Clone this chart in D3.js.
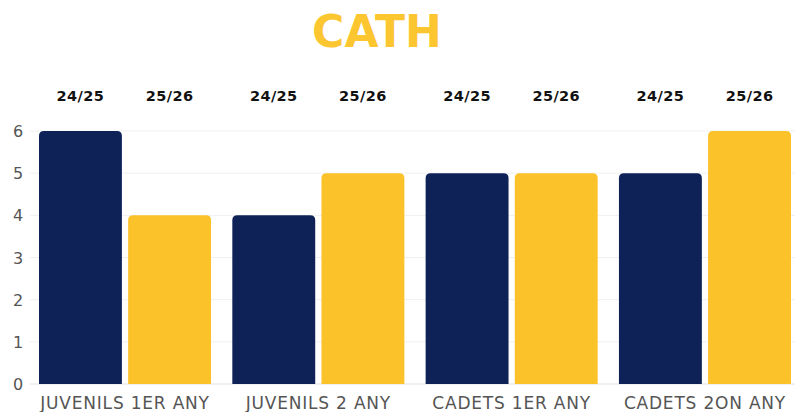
<!DOCTYPE html>
<html>
<head>
<meta charset="utf-8">
<script src="https://cdn.jsdelivr.net/npm/d3@7"></script>
<style>
  body { margin: 0; background: #fff; }
  svg { display: block; font-family: "DejaVu Sans", sans-serif; }
</style>
</head>
<body>
<svg id="chart" width="799" height="412"></svg>
<script>
// Data
const categories = ['JUVENILS 1ER ANY', 'JUVENILS 2 ANY', 'CADETS 1ER ANY', 'CADETS 2ON ANY'];
const seasons = ['24/25', '25/26'];
const values2425 = [6, 4, 5, 5];
const values2526 = [4, 5, 5, 6];
const yTicks = [0, 1, 2, 3, 4, 5, 6];

const colors = { '24/25': '#0e2258', '25/26': '#fcc22a' };

const svg = d3.select('#chart');

const x0 = d3.scaleBand()
    .domain(categories)
    .range([39, 791])
    .paddingInner(0.11)
    .paddingOuter(0);

const x1 = d3.scaleBand()
    .domain(seasons)
    .range([0, x0.bandwidth()])
    .padding(0.07);
x1.paddingOuter(0);

const y = d3.scaleLinear()
    .domain([0, 6])
    .range([384, 131]);

// Title
svg.append('text')
    .attr('x', 377)
    .attr('y', 47)
    .attr('text-anchor', 'middle')
    .attr('fill', '#fcc630')
    .attr('font-size', 44)
    .attr('font-weight', 700)
    .text('CATH');

// Gridlines
svg.append('g')
    .selectAll('line')
    .data(yTicks)
    .join('line')
    .attr('x1', 30)
    .attr('x2', 795)
    .attr('y1', d => y(d))
    .attr('y2', d => y(d))
    .attr('stroke', d => d === 0 ? '#e2e2e2' : '#f0f0f0')
    .attr('stroke-width', 1);

// Y axis labels
svg.append('g')
    .selectAll('text')
    .data(yTicks)
    .join('text')
    .attr('x', 18)
    .attr('y', d => y(d) + 6)
    .attr('text-anchor', 'middle')
    .attr('fill', '#555')
    .attr('font-size', 16)
    .text(d => d);

// Rows for bars
const rows = categories.map((c, i) => ({
    cat: c,
    bars: [
        { season: '24/25', value: values2425[i] },
        { season: '25/26', value: values2526[i] }
    ]
}));

function topRounded(x, yTop, w, h, r) {
    return `M${x},${yTop + h}V${yTop + r}Q${x},${yTop} ${x + r},${yTop}` +
        `H${x + w - r}Q${x + w},${yTop} ${x + w},${yTop + r}V${yTop + h}Z`;
}

const groups = svg.append('g')
    .selectAll('g')
    .data(rows)
    .join('g')
    .attr('transform', d => `translate(${x0(d.cat)},0)`);

groups.selectAll('path')
    .data(d => d.bars)
    .join('path')
    .attr('fill', d => colors[d.season])
    .attr('d', d => topRounded(x1(d.season), y(d.value), x1.bandwidth(), y(0) - y(d.value), 5));

// Season labels above
groups.selectAll('text.season')
    .data(d => d.bars)
    .join('text')
    .attr('class', 'season')
    .attr('x', d => x1(d.season) + x1.bandwidth() / 2)
    .attr('y', 101)
    .attr('text-anchor', 'middle')
    .attr('fill', '#111')
    .attr('font-size', 14.5)
    .attr('font-weight', 700)
    .attr('letter-spacing', 0.4)
    .text(d => d.season);

// Category labels
svg.append('g')
    .selectAll('text')
    .data(categories)
    .join('text')
    .attr('x', d => x0(d) + x0.bandwidth() / 2)
    .attr('y', 409)
    .attr('text-anchor', 'middle')
    .attr('fill', '#555')
    .attr('font-size', 17)
    .attr('letter-spacing', 0.8)
    .text(d => d);
</script>
</body>
</html>
